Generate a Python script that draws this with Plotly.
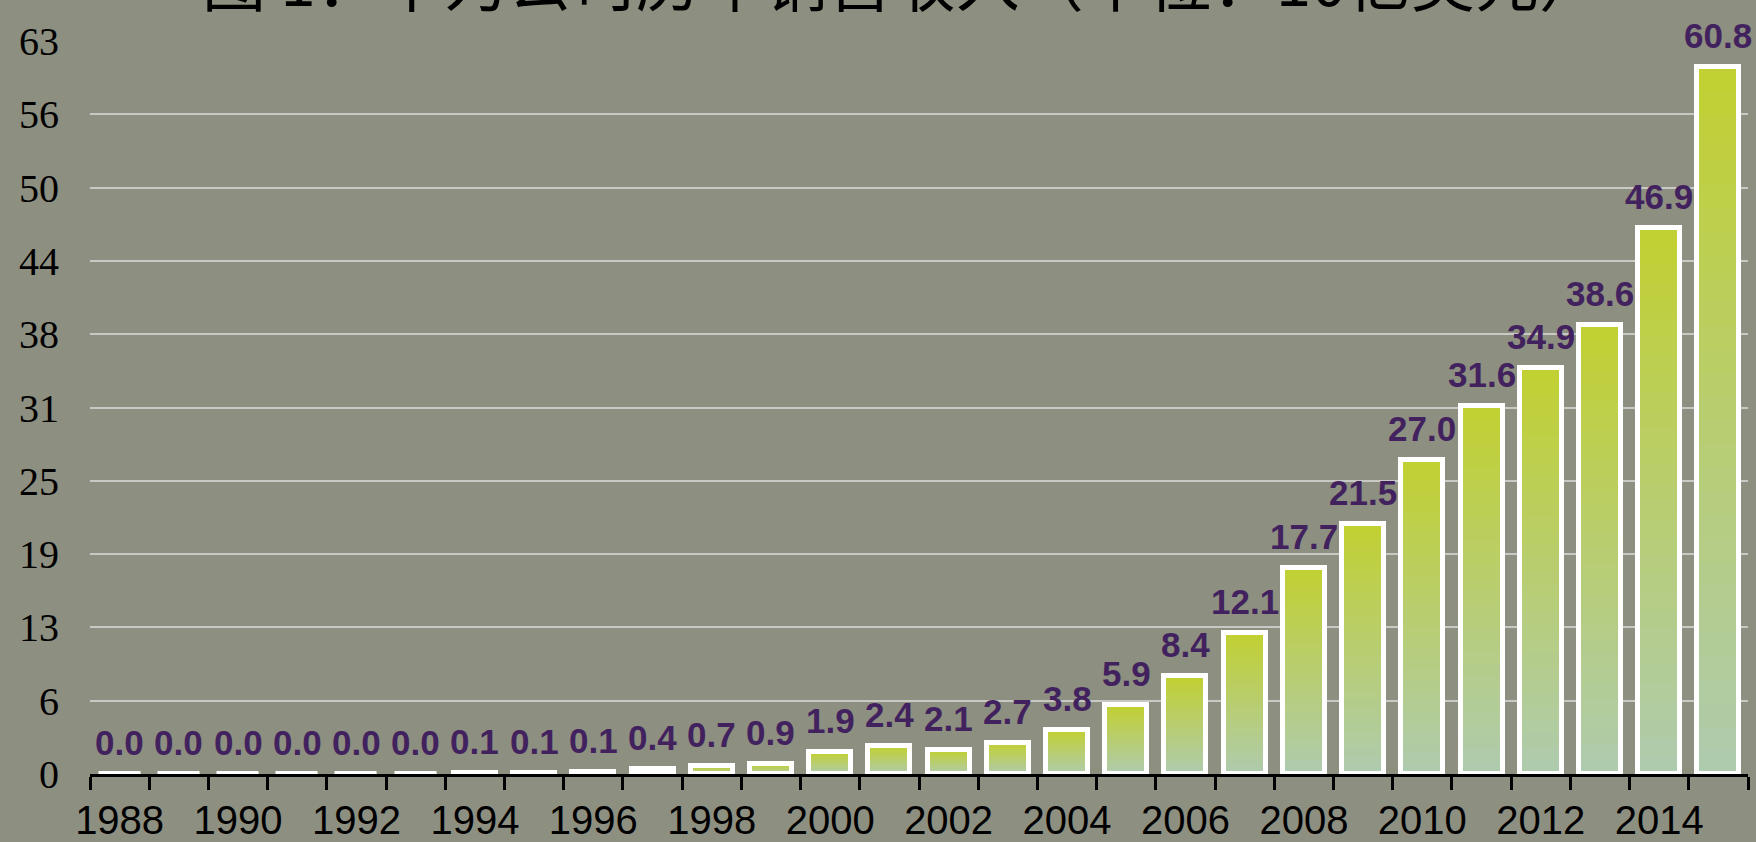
import plotly.graph_objects as go

# ---- data ----
years = list(range(1988, 2016))
revenue = [0.01, 0.01, 0.01, 0.02, 0.02, 0.04, 0.08, 0.1, 0.14, 0.4,
           0.7, 0.9, 1.9, 2.4, 2.1, 2.7, 3.8, 5.9, 8.4, 12.1,
           17.7, 21.5, 27.0, 31.6, 34.9, 38.6, 46.9, 60.8]
label_years = [str(y) for y in range(1988, 2016, 2)]
ytick_vals = [6.3 * i for i in range(11)]
ytick_text = ["0", "6", "13", "19", "25", "31", "38", "44", "50", "56", "63"]
title_text = "图 1：华为公司历年销售收入（单位：10亿美元）"

# ---- style ----
BG = "#8D8F80"
TOP = (193, 208, 49)
BOTTOM = (175, 203, 175)
N_SEG = 30
BAR_W = 0.71

def mix(t):
    c = [round(BOTTOM[i] + (TOP[i] - BOTTOM[i]) * t) for i in range(3)]
    return f"rgb({c[0]},{c[1]},{c[2]})"

fig = go.Figure()

# gradient fill built from stacked slices of each bar
for k in range(N_SEG):
    t = (k + 0.5) / N_SEG
    fig.add_trace(go.Bar(
        x=years,
        y=[v / N_SEG for v in revenue],
        base=[v * k / N_SEG for v in revenue],
        width=BAR_W,
        marker=dict(color=mix(t), line=dict(width=0)),
        hoverinfo="skip",
        showlegend=False,
    ))

# white outline
fig.add_trace(go.Bar(
    x=years, y=revenue, width=BAR_W,
    marker=dict(color="rgba(0,0,0,0)", line=dict(color="white", width=5)),
    hoverinfo="skip", showlegend=False,
))

# value labels
for yr, v in zip(years, revenue):
    fig.add_annotation(
        x=yr, y=v, xref="x", yref="y", text=f"{v:.1f}",
        showarrow=False, yanchor="bottom", yshift=10,
        font=dict(family="Liberation Sans, Arial", size=35, color="#42225E", weight="bold"),
    )

# partially visible title (cut off at the top edge, as in the reference)
fig.add_annotation(
    x=0.49, y=1, xref="paper", yref="paper", text=title_text,
    showarrow=False, yanchor="bottom", yshift=15,
    font=dict(family="Noto Sans CJK SC", size=64, color="black"),
)

fig.update_layout(
    width=1756, height=842,
    margin=dict(l=90, r=8, t=41, b=68, autoexpand=False),
    paper_bgcolor=BG, plot_bgcolor=BG,
    barmode="overlay", bargap=0,
    showlegend=False,
    xaxis=dict(
        range=[1987.5, 2015.5],
        automargin=False,
        tickmode="array",
        tickvals=list(range(1988, 2016, 2)),
        ticktext=label_years,
        ticks="outside", ticklen=1, tickcolor="rgba(0,0,0,0)",
        ticklabelstandoff=8,
        showgrid=False, zeroline=False,
        showline=True, linecolor="black", linewidth=3,
        tickfont=dict(family="Liberation Sans, Arial", size=40, color="black"),
        minor=dict(
            tickmode="array",
            tickvals=[y - 0.5 for y in years] + [years[-1] + 0.5],
            ticks="outside", ticklen=13, tickwidth=3, tickcolor="black",
            showgrid=False,
        ),
    ),
    yaxis=dict(
        range=[0, 63],
        automargin=False,
        tickmode="array",
        tickvals=ytick_vals,
        ticktext=ytick_text,
        ticks="", ticklabelstandoff=30,
        showgrid=True, gridcolor="#C8C8C4", gridwidth=2,
        zeroline=False, showline=False,
        tickfont=dict(family="Liberation Serif, Times New Roman", size=40, color="black"),
    ),
)

fig.write_html("out.html", config={"displayModeBar": False},
               post_script="document.body.style.margin='0';document.body.style.overflow='hidden';")
